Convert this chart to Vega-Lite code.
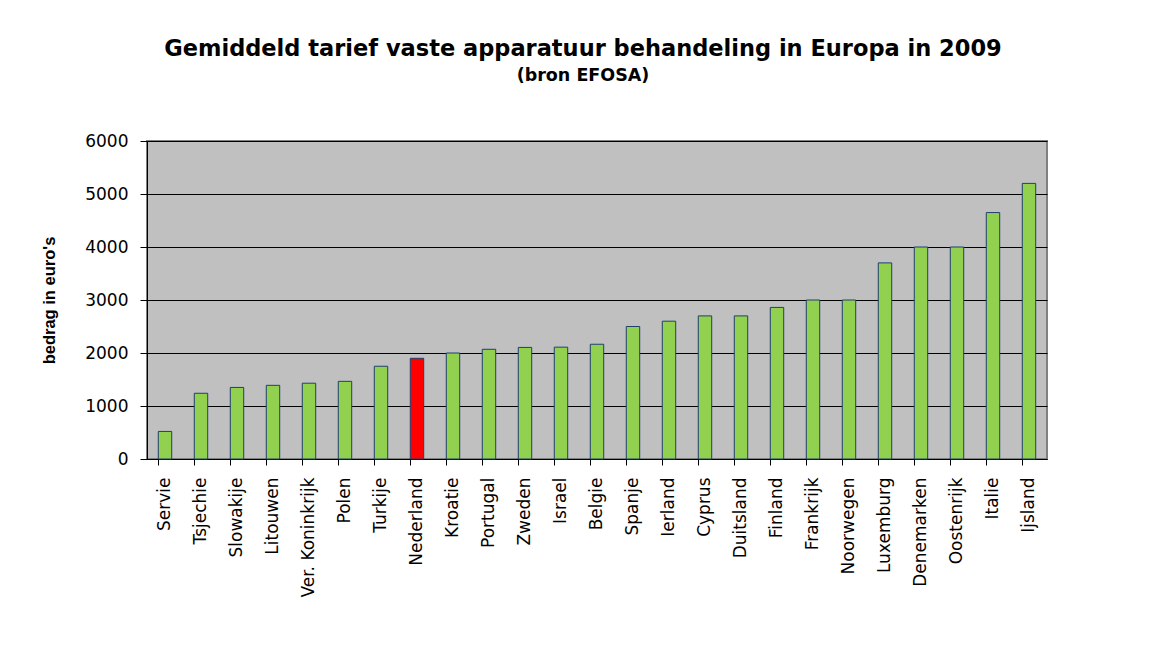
{
  "$schema": "https://vega.github.io/schema/vega-lite/v6.json",
  "autosize": {"type": "none"},
  "width": 900,
  "height": 318,
  "padding": {"left": 147, "top": 141, "right": 106, "bottom": 186},
  "background": "white",
  "title": {
    "text": "Gemiddeld tarief vaste apparatuur behandeling in Europa in 2009",
    "subtitle": "(bron EFOSA)",
    "font": "DejaVu Sans",
    "fontSize": 22.5,
    "fontWeight": "bold",
    "color": "black",
    "subtitleFont": "DejaVu Sans",
    "subtitleFontSize": 17.5,
    "subtitleFontWeight": "bold",
    "subtitleColor": "black",
    "subtitlePadding": 6,
    "anchor": "middle",
    "dx": -14,
    "offset": 48
  },
  "data": {
    "values": [
      {"land": "Servie", "bedrag": 520},
      {"land": "Tsjechie", "bedrag": 1240},
      {"land": "Slowakije", "bedrag": 1350},
      {"land": "Litouwen", "bedrag": 1390},
      {"land": "Ver. Koninkrijk", "bedrag": 1430},
      {"land": "Polen", "bedrag": 1465},
      {"land": "Turkije", "bedrag": 1750},
      {"land": "Nederland", "bedrag": 1900},
      {"land": "Kroatie", "bedrag": 2000},
      {"land": "Portugal", "bedrag": 2070},
      {"land": "Zweden", "bedrag": 2105},
      {"land": "Israel", "bedrag": 2110},
      {"land": "Belgie", "bedrag": 2165},
      {"land": "Spanje", "bedrag": 2500},
      {"land": "Ierland", "bedrag": 2600},
      {"land": "Cyprus", "bedrag": 2700},
      {"land": "Duitsland", "bedrag": 2700},
      {"land": "Finland", "bedrag": 2860},
      {"land": "Frankrijk", "bedrag": 3000},
      {"land": "Noorwegen", "bedrag": 3000},
      {"land": "Luxemburg", "bedrag": 3700},
      {"land": "Denemarken", "bedrag": 4000},
      {"land": "Oostenrijk", "bedrag": 4000},
      {"land": "Italie", "bedrag": 4650},
      {"land": "Ijsland", "bedrag": 5200}
    ]
  },
  "mark": {"type": "bar", "stroke": "#1F3F6F", "strokeWidth": 1},
  "encoding": {
    "x": {
      "field": "land",
      "type": "nominal",
      "sort": null,
      "scale": {"paddingInner": 0.627, "paddingOuter": 0.3135},
      "axis": {
        "title": null,
        "labelAngle": -90,
        "labelAlign": "right",
        "labelBaseline": "middle",
        "labelFont": "DejaVu Sans",
        "labelFontSize": 17,
        "labelColor": "black",
        "labelPadding": 12,
        "tickSize": 6,
        "tickColor": "black",
        "domainColor": "black",
        "bandPosition": 0,
        "labelOverlap": false
      }
    },
    "y": {
      "field": "bedrag",
      "type": "quantitative",
      "scale": {"domain": [0, 6000], "nice": false},
      "axis": {
        "title": "bedrag in euro's",
        "titleFont": "Liberation Sans",
        "titleFontSize": 16.5,
        "titleFontWeight": "bold",
        "titleColor": "black",
        "titlePadding": 27,
        "values": [0, 1000, 2000, 3000, 4000, 5000, 6000],
        "format": "d",
        "labelFont": "DejaVu Sans",
        "labelFontSize": 17,
        "labelColor": "black",
        "labelPadding": 12,
        "tickSize": 7,
        "tickColor": "black",
        "domainColor": "black",
        "grid": true,
        "gridColor": "black",
        "gridWidth": 1,
        "gridOpacity": 1
      }
    },
    "color": {
      "condition": {"test": "datum.land === 'Nederland'", "value": "#FF0000"},
      "value": "#92D050"
    }
  },
  "config": {
    "view": {"fill": "#C0C0C0", "stroke": "#808080", "strokeWidth": 2}
  }
}
